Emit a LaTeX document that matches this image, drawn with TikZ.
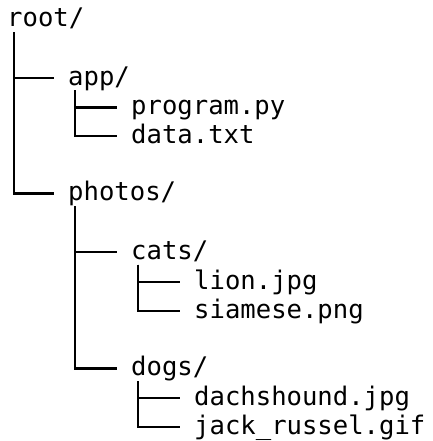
\documentclass[tikz,border=0pt]{standalone}
\usepackage{fontspec}
\setmonofont{DejaVu Sans Mono}
\tikzset{
  entry/.style={anchor=base west, yshift=-7pt, inner sep=0pt, font=\ttfamily\fontsize{25.6}{29}\selectfont},
  treeline/.style={line width=2.2pt},
}
\begin{document}
\begin{tikzpicture}[x=1pt,y=-1pt]
  \useasboundingbox (0,0) rectangle (432,441);

  \node[entry] (root) at (7,20) {root/};
  \node[entry] (app) at (68,78) {app/};
  \node[entry] (program) at (131,107.5) {program.py};
  \node[entry] (data) at (131,136) {data.txt};
  \node[entry] (photos) at (68,193.5) {photos/};
  \node[entry] (cats) at (131,252) {cats/};
  \node[entry] (lion) at (194,282) {lion.jpg};
  \node[entry] (siamese) at (194,311) {siamese.png};
  \node[entry] (dogs) at (131,368.5) {dogs/};
  \node[entry] (dachshound) at (194,398) {dachshound.jpg};
  \node[entry] (jackrussel) at (194,427) {jack\_russel.gif};

  \coordinate (rootstem) at ([xshift=7pt,yshift=-5.5pt]root.base west);
  \coordinate (appstem) at ([xshift=7pt,yshift=-5.5pt]app.base west);
  \coordinate (photosstem) at ([xshift=7pt,yshift=-5.5pt]photos.base west);
  \coordinate (catsstem) at ([xshift=7pt,yshift=-5.5pt]cats.base west);
  \coordinate (dogsstem) at ([xshift=7pt,yshift=-5.5pt]dogs.base west);

  \draw[treeline] (rootstem) |- ([xshift=-14pt,yshift=7pt]app.base west);
  \draw[treeline] (rootstem) |- ([xshift=-14pt,yshift=7pt]photos.base west);
  \draw[treeline] (appstem) |- ([xshift=-14pt,yshift=7pt]program.base west);
  \draw[treeline] (appstem) |- ([xshift=-14pt,yshift=7pt]data.base west);
  \draw[treeline] (photosstem) |- ([xshift=-14pt,yshift=7pt]cats.base west);
  \draw[treeline] (photosstem) |- ([xshift=-14pt,yshift=7pt]dogs.base west);
  \draw[treeline] (catsstem) |- ([xshift=-14pt,yshift=7pt]lion.base west);
  \draw[treeline] (catsstem) |- ([xshift=-14pt,yshift=7pt]siamese.base west);
  \draw[treeline] (dogsstem) |- ([xshift=-14pt,yshift=7pt]dachshound.base west);
  \draw[treeline] (dogsstem) |- ([xshift=-14pt,yshift=7pt]jackrussel.base west);
\end{tikzpicture}
\end{document}
